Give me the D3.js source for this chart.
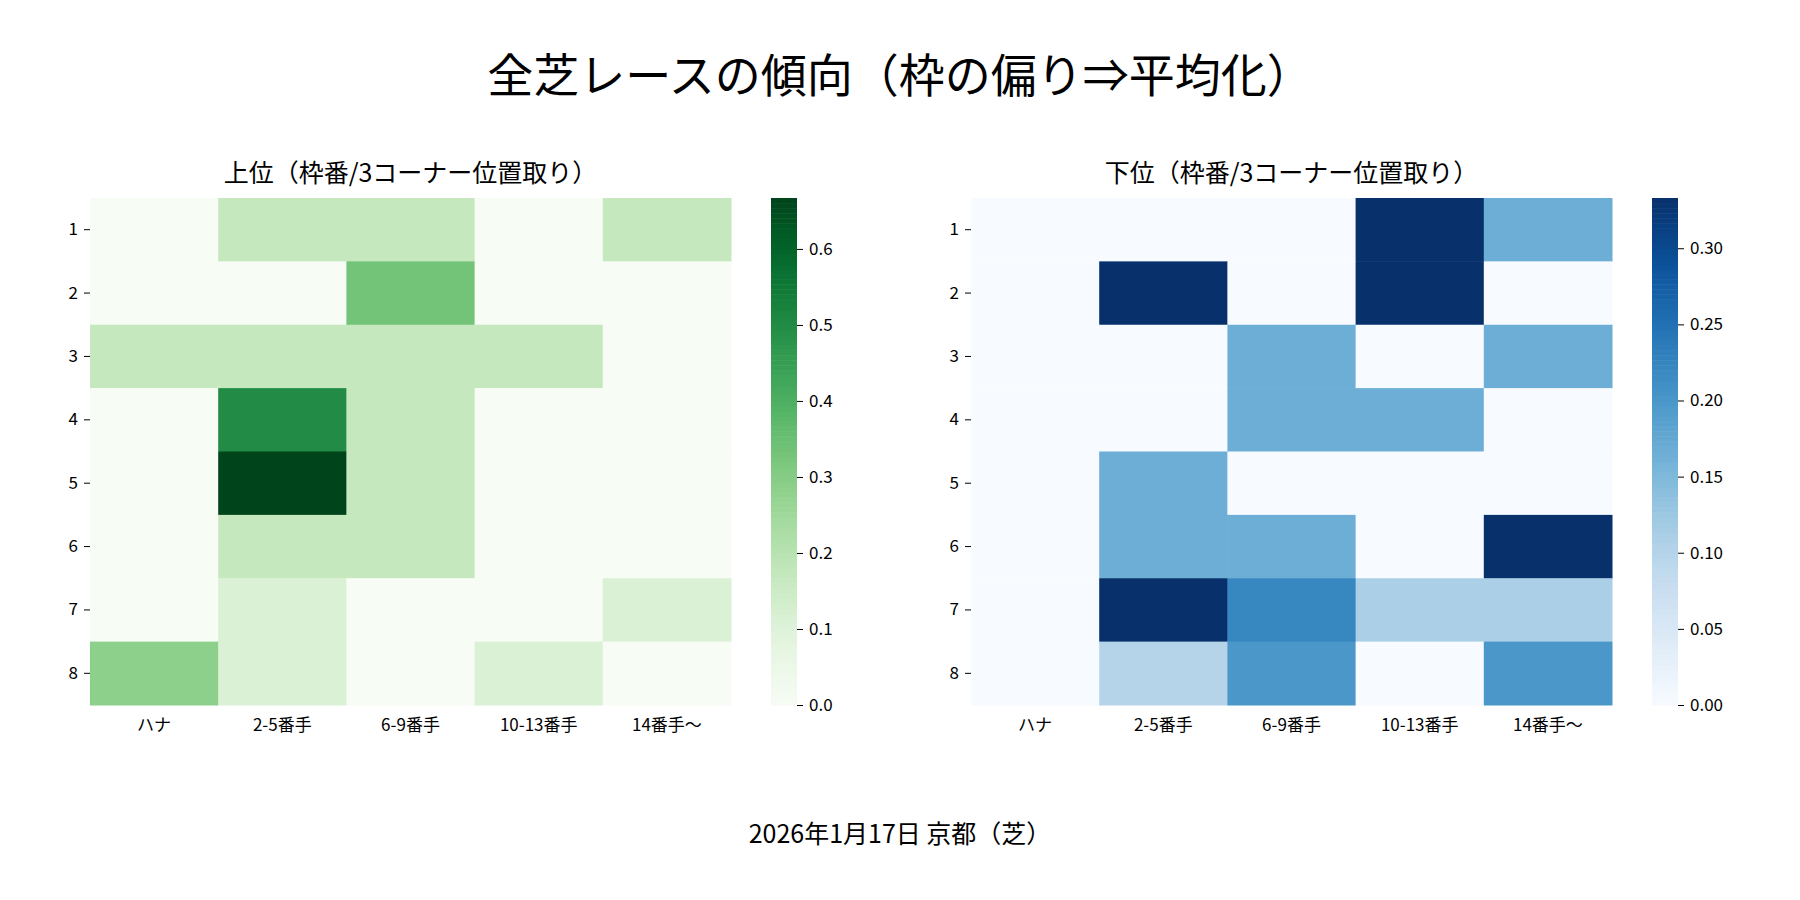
<!DOCTYPE html>
<html><head><meta charset="utf-8">
<script src="https://cdn.jsdelivr.net/npm/d3@7"></script>
<style>body{margin:0;background:#fff}text{font-family:"Noto Sans CJK JP","Noto Sans",sans-serif;fill:#000}</style>
</head><body><div id="chart"></div>
<script>
var width = 1800, height = 900;
var cols = ["ハナ", "2-5番手", "6-9番手", "10-13番手", "14番手〜"];
var rows = ["1", "2", "3", "4", "5", "6", "7", "8"];
var topVals = [
  [0, 0.167, 0.167, 0, 0.167],
  [0, 0, 0.333, 0, 0],
  [0.167, 0.167, 0.167, 0.167, 0],
  [0, 0.5, 0.167, 0, 0],
  [0, 0.667, 0.167, 0, 0],
  [0, 0.167, 0.167, 0, 0],
  [0, 0.111, 0, 0, 0.111],
  [0.286, 0.111, 0, 0.111, 0]
];
var bottomVals = [
  [0, 0, 0, 0.333, 0.167],
  [0, 0.333, 0, 0.333, 0],
  [0, 0, 0.167, 0, 0.167],
  [0, 0, 0.167, 0.167, 0],
  [0, 0.167, 0, 0, 0],
  [0, 0.167, 0.167, 0, 0.333],
  [0, 0.333, 0.222, 0.111, 0.111],
  [0, 0.1, 0.2, 0, 0.2]
];
var topTicks = [0, 0.1, 0.2, 0.3, 0.4, 0.5, 0.6];
var bottomTicks = [0, 0.05, 0.1, 0.15, 0.2, 0.25, 0.3];

var svg = d3.select("#chart").append("svg").attr("width", width).attr("height", height);

svg.append("text").attr("x", 900).attr("y", 92).attr("text-anchor", "middle")
   .attr("font-size", 46).text("全芝レースの傾向（枠の偏り⇒平均化）");
svg.append("text").attr("x", 900).attr("y", 843).attr("text-anchor", "middle")
   .attr("font-size", 25).text("2026年1月17日 京都（芝）");

function heatmap(x0, vals, interp, vmax, ticks, fmt, title) {
  var y0 = 198, w = 641, h = 507;
  var g = svg.append("g");
  var x = d3.scaleBand().domain(cols).range([x0, x0 + w]);
  var y = d3.scaleBand().domain(rows).range([y0, y0 + h]);
  var color = d3.scaleSequential(interp).domain([0, vmax]);
  g.append("text").attr("x", x0 + w / 2).attr("y", y0 - 16).attr("text-anchor", "middle")
   .attr("font-size", 25).text(title);
  vals.forEach(function(r, i) {
    r.forEach(function(v, j) {
      g.append("rect").attr("x", x(cols[j])).attr("y", y(rows[i]))
       .attr("width", x.bandwidth() + 0.5).attr("height", y.bandwidth() + 0.5)
       .attr("fill", color(v));
    });
  });
  var ax = g.append("g").attr("transform", "translate(0," + (y0 + h) + ")")
    .call(d3.axisBottom(x).tickSize(0).tickPadding(14));
  ax.select(".domain").remove();
  ax.selectAll("text").attr("font-size", 17);
  var ay = g.append("g").attr("transform", "translate(" + x0 + ",0)")
    .call(d3.axisLeft(y).tickSize(6).tickPadding(6));
  ay.select(".domain").remove();
  ay.selectAll("text").attr("font-size", 17);
  // colorbar
  var cx = x0 + w + 40, cw = 26;
  var cy = d3.scaleLinear().domain([0, vmax]).range([y0 + h, y0]);
  var n = 100;
  d3.range(n).forEach(function(k) {
    var v0 = vmax * k / n, v1 = vmax * (k + 1) / n;
    g.append("rect").attr("x", cx).attr("y", cy(v1)).attr("width", cw)
     .attr("height", cy(v0) - cy(v1) + 0.5).attr("fill", color((v0 + v1) / 2));
  });
  var ac = g.append("g").attr("transform", "translate(" + (cx + cw) + ",0)")
    .call(d3.axisRight(cy).tickValues(ticks).tickFormat(d3.format(fmt)).tickSize(6).tickPadding(6));
  ac.select(".domain").remove();
  ac.selectAll("text").attr("font-size", 17);
}

heatmap(90, topVals, d3.interpolateGreens, 0.667, topTicks, ".1f", "上位（枠番/3コーナー位置取り）");
heatmap(971, bottomVals, d3.interpolateBlues, 0.333, bottomTicks, ".2f", "下位（枠番/3コーナー位置取り）");
</script></body></html>
